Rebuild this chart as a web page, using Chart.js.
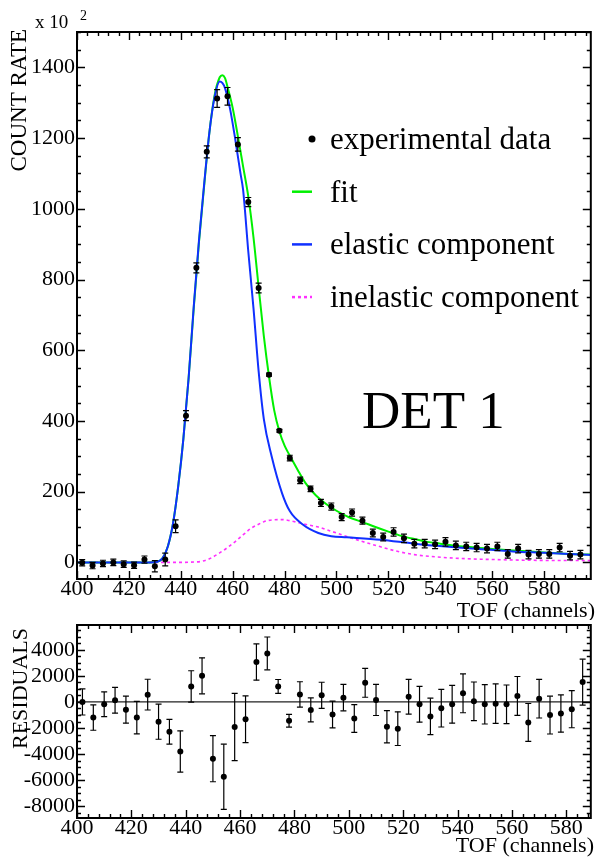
<!DOCTYPE html>
<html>
<head>
<meta charset="utf-8">
<script src="https://cdn.jsdelivr.net/npm/chart.js@4.4.1/dist/chart.umd.min.js"></script>
<style>
  html, body { margin: 0; padding: 0; background: #fff; }
  #wrap { position: relative; width: 596px; height: 861px; overflow: hidden; background: #fff; }
  canvas { position: absolute; left: 0; }
  #c-top { top: 0; }
  #c-res { top: 595px; }
</style>
</head>
<body>
<div id="wrap">
  <canvas id="c-top" width="596" height="620"></canvas>
  <canvas id="c-res" width="596" height="266"></canvas>
</div>
<script>
(() => {
  "use strict";

  // ── data (count rate in units of 10^2, residuals in raw counts) ──────────
  const channels = [402, 406, 410, 414, 418, 422, 426, 430, 434, 438, 442, 446, 450, 454, 458, 462, 466,
    470, 474, 478, 482, 486, 490, 494, 498, 502, 506, 510, 514, 518, 522, 526, 530, 534, 538, 542, 546,
    550, 554, 558, 562, 566, 570, 574, 578, 582, 586, 590, 594];
  const counts = [-1, -9, -3, 0, -5, -8, 8, -11, 8, 102, 415, 833, 1161, 1312, 1318, 1182, 1019,
    776, 531, 372, 295, 232, 208, 168, 158, 128, 141, 118, 83, 72, 86, 68, 53, 53, 51, 58, 48,
    45, 42, 39, 45, 24, 39, 22, 24, 24, 42, 19, 22];
  const countErr = [9, 9, 9, 9, 9, 9, 10, 16, 18, 18, 14, 14, 17, 25, 25, 19, 13,
    14, 4, 4, 8, 9, 8, 10, 10, 10, 10, 10, 11, 11, 12, 12, 12, 12, 12, 12, 12,
    12, 12, 12, 12, 12, 12, 12, 12, 12, 12, 12, 12];

  const fitX = [400, 428, 431, 433, 435, 437, 439, 441, 443, 445, 447, 449, 451, 453, 455, 456, 457, 458,
    460, 462, 464, 466, 468, 470, 472, 474, 476, 478, 480, 482, 485, 488, 492, 496, 500, 505, 510, 515,
    520, 525, 530, 535, 540, 545, 550, 555, 560, 570, 580, 590, 598];
  const fitY = [0, 0, 2, 12, 45, 110, 215, 350, 520, 720, 905, 1065, 1215, 1320, 1372, 1378, 1370, 1345,
    1285, 1205, 1120, 1035, 920, 778, 640, 525, 430, 370, 330, 302, 262, 225, 190, 165, 146, 127, 114, 100,
    87, 75, 66, 58, 53, 48, 44, 41, 38, 33, 28, 24, 22];

  const elasticX = [400, 428, 431, 433, 435, 437, 439, 441, 443, 445, 447, 449, 451, 453, 455, 456, 457,
    459, 461, 463, 464, 466, 468, 470, 472, 475, 479, 482, 487, 493, 498, 504, 517, 530, 542, 555, 568,
    580, 594, 598];
  const elasticY = [0, 0, 2, 12, 45, 110, 215, 350, 520, 725, 910, 1070, 1215, 1315, 1360, 1356, 1342,
    1282, 1196, 1100, 1054, 880, 720, 540, 405, 300, 196, 145, 107, 83, 74, 71, 64, 53, 45, 38, 31,
    27, 22, 21];

  const inelasticX = [400, 440, 445, 448, 451, 455, 458, 461, 464, 467, 470, 472, 475, 479, 482, 485, 489,
    493, 498, 504, 510, 517, 523, 530, 536, 548, 561, 574, 598];
  const inelasticY = [0, 0, 1, 3, 10, 27, 42, 59, 78, 96, 108, 115, 120, 121, 118, 113, 106,
    100, 88, 73, 59, 44, 32, 22, 17, 11, 8, 6, 5];

  const resChannels = channels.slice(0, 47);
  const residuals = [0, -1200, -180, 130, -590, -1200, 560, -1510, -2280, -3800, 1190, 2000, -4350, -5740,
    -1920, -1330, 3060, 3720, 1190, -1440, 580, -610, 510, -960, 330, -1270, 1470, 150, -1900, -2050, 400,
    -180, -1110, -480, -180, 660, 50, -180, -130, -180, 460, -1570, 250, -1010, -890, -560, 1520];
  const resErr = [1000, 970, 950, 990, 1040, 1250, 1180, 1350, 950, 1580, 1200, 1380, 1770, 2500, 2580,
    1790, 1390, 1260, 530, 490, 970, 920, 1000, 1030, 1010, 1060, 1110, 1190, 1240, 1290, 1330, 1370,
    1400, 1440, 1450, 1490, 1480, 1510, 1510, 1480, 1490, 1450, 1480, 1450, 1430, 1420, 1760];

  const xTicks = [400, 420, 440, 460, 480, 500, 520, 540, 560, 580];
  const yTicksTop = [0, 200, 400, 600, 800, 1000, 1200, 1400];
  const yTicksRes = [-8000, -6000, -4000, -2000, 0, 2000, 4000];

  const legendItems = ["experimental data", "fit", "elastic component", "inelastic component"];

  // ── style ───────────────────────────────────────────────────────────────
  const SERIF = "'Liberation Serif', 'Times New Roman', Times, serif";
  const GREEN = "#00f000";
  const BLUE = "#1030ff";
  const MAGENTA = "#ff30ff";

  Chart.defaults.font.family = SERIF;
  Chart.defaults.color = "#000";

  const xy = (xs, ys) => xs.map((x, i) => ({ x, y: ys[i] }));

  function errSegments(xs, ys, es) {
    const out = [];
    xs.forEach((x, i) => {
      out.push({ x, y: ys[i] - es[i] }, { x, y: ys[i] + es[i] }, { x, y: null });
    });
    return out;
  }

  function errCaps(xs, ys, es) {
    return xs.flatMap((x, i) => [{ x, y: ys[i] - es[i] }, { x, y: ys[i] + es[i] }]);
  }

  // ROOT-style frame: box with inward major/minor ticks on all four sides
  const rootFrame = {
    id: "rootFrame",
    afterDatasetsDraw(chart, args, o) {
      const { ctx, chartArea: a, scales: { x, y } } = chart;
      ctx.save();
      ctx.strokeStyle = "#000";
      ctx.lineWidth = 1.4;
      ctx.beginPath();
      for (let v = Math.ceil(x.min / o.xMinor) * o.xMinor; v <= x.max; v += o.xMinor) {
        const px = Math.round(x.getPixelForValue(v)) + 0.5;
        const len = v % o.xMajor === 0 ? o.major : o.minor;
        ctx.moveTo(px, a.bottom); ctx.lineTo(px, a.bottom - len);
        ctx.moveTo(px, a.top); ctx.lineTo(px, a.top + len);
      }
      for (let v = Math.ceil(y.min / o.yMinor) * o.yMinor; v <= y.max; v += o.yMinor) {
        const py = Math.round(y.getPixelForValue(v)) + 0.5;
        const len = v % o.yMajor === 0 ? o.major : o.minor;
        ctx.moveTo(a.left, py); ctx.lineTo(a.left + len, py);
        ctx.moveTo(a.right, py); ctx.lineTo(a.right - len, py);
      }
      ctx.stroke();
      ctx.lineWidth = 2;
      ctx.strokeRect(a.left, a.top, a.right - a.left, a.bottom - a.top);
      ctx.restore();
    },
    afterDraw(chart, args, o) {
      const { ctx } = chart;
      ctx.save();
      ctx.fillStyle = "#000";
      for (const t of o.texts || []) {
        ctx.font = `${t.size}px ${SERIF}`;
        ctx.textAlign = t.align || "left";
        ctx.textBaseline = "alphabetic";
        if (t.rotate) {
          ctx.save();
          ctx.translate(t.x, t.y);
          ctx.rotate(-Math.PI / 2);
          ctx.fillText(t.text, 0, 0);
          ctx.restore();
        } else {
          ctx.fillText(t.text, t.x, t.y);
        }
      }
      if (o.legend) drawLegend(ctx, o.legend);
      ctx.restore();
    },
  };

  function drawLegend(ctx, L) {
    const rowY = (i) => L.y + i * L.step;
    // marker column
    ctx.fillStyle = "#000";
    ctx.beginPath();
    ctx.arc(L.markX, rowY(0) - 10, 3.5, 0, Math.PI * 2);
    ctx.fill();
    const lines = [[GREEN, []], [BLUE, []], [MAGENTA, [3, 3]]];
    lines.forEach(([c, dash], i) => {
      ctx.strokeStyle = c;
      ctx.lineWidth = 2.5;
      ctx.setLineDash(dash);
      ctx.beginPath();
      ctx.moveTo(L.lineX0, rowY(i + 1) - 10);
      ctx.lineTo(L.lineX1, rowY(i + 1) - 10);
      ctx.stroke();
    });
    ctx.setLineDash([]);
    ctx.font = `${L.size}px ${SERIF}`;
    ctx.textAlign = "left";
    ctx.fillStyle = "#000";
    legendItems.forEach((txt, i) => ctx.fillText(txt, L.textX, rowY(i)));
  }

  const tickFont = { size: 22, lineHeight: 1 };

  function xScale(min, max, height) {
    return {
      type: "linear", min, max,
      afterBuildTicks: (s) => { s.ticks = xTicks.map((v) => ({ value: v })); },
      afterFit: (s) => { s.height = height; },
      grid: { display: false, drawTicks: false },
      border: { display: false },
      ticks: { font: tickFont, padding: -1, maxRotation: 0, autoSkip: false, callback: (v) => String(v) },
    };
  }

  function yScale(min, max, ticks) {
    return {
      type: "linear", min, max,
      afterBuildTicks: (s) => { s.ticks = ticks.map((v) => ({ value: v })); },
      afterFit: (s) => { s.width = 77; },
      grid: { display: false, drawTicks: false },
      border: { display: false },
      ticks: { font: tickFont, padding: 2, autoSkip: false, callback: (v) => String(v) },
    };
  }

  const baseOpts = {
    responsive: false,
    animation: false,
    devicePixelRatio: 1,
    events: [],
  };

  // ── top panel ───────────────────────────────────────────────────────────
  new Chart(document.getElementById("c-top").getContext("2d"), {
    type: "scatter",
    data: {
      datasets: [
        { label: "experimental data", data: xy(channels, counts), pointRadius: 3, pointBackgroundColor: "#000",
          pointBorderWidth: 0, order: 0 },
        { type: "line", data: errSegments(channels, counts, countErr), borderColor: "#000", borderWidth: 1.2,
          pointRadius: 0, spanGaps: false, order: 1 },
        { data: errCaps(channels, counts, countErr), pointStyle: "line", pointRadius: 3, pointBorderColor: "#000",
          pointBorderWidth: 1.2, order: 1 },
        { type: "line", label: "fit", data: xy(fitX, fitY), borderColor: GREEN, borderWidth: 2, pointRadius: 0,
          cubicInterpolationMode: "monotone", order: 3 },
        { type: "line", label: "elastic component", data: xy(elasticX, elasticY), borderColor: BLUE, borderWidth: 2,
          pointRadius: 0, cubicInterpolationMode: "monotone", order: 2 },
        { type: "line", label: "inelastic component", data: xy(inelasticX, inelasticY), borderColor: MAGENTA,
          borderWidth: 1.6, borderDash: [3, 3], pointRadius: 0, cubicInterpolationMode: "monotone", order: 4 },
      ],
    },
    options: {
      ...baseOpts,
      layout: { padding: { top: 32, right: 1, left: 0, bottom: 0 } },
      plugins: {
        legend: { display: false },
        tooltip: { enabled: false },
        rootFrame: {
          xMinor: 4, xMajor: 20, yMinor: 50, yMajor: 200, major: 8, minor: 4,
          texts: [
            { text: "x 10", x: 35, y: 28, size: 19 },
            { text: "2", x: 80, y: 20, size: 14 },
            { text: "COUNT RATE", x: 26, y: 29, size: 23, align: "right", rotate: true },
            { text: "TOF (channels)", x: 595, y: 617, size: 22, align: "right" },
            { text: "DET 1", x: 362, y: 428, size: 53 },
          ],
          legend: { markX: 312, lineX0: 292, lineX1: 312, textX: 330, y: 149, step: 52.7, size: 31 },
        },
      },
      scales: {
        x: xScale(400, 598, 41),
        y: yScale(-47, 1500, yTicksTop),
      },
    },
    plugins: [rootFrame],
  });

  // ── residuals panel ─────────────────────────────────────────────────────
  const resXMin = 400;
  const resXMax = 589;
  new Chart(document.getElementById("c-res").getContext("2d"), {
    type: "scatter",
    data: {
      datasets: [
        { label: "residuals", data: xy(resChannels, residuals), pointRadius: 3, pointBackgroundColor: "#000",
          pointBorderWidth: 0, order: 0 },
        { type: "line", data: errSegments(resChannels, residuals, resErr), borderColor: "#000", borderWidth: 1.2,
          pointRadius: 0, spanGaps: false, order: 1 },
        { data: errCaps(resChannels, residuals, resErr), pointStyle: "line", pointRadius: 3,
          pointBorderColor: "#000", pointBorderWidth: 1.2, order: 1 },
        { type: "line", data: xy([resXMin, resXMax], [0, 0]), borderColor: "#222", borderWidth: 1.2,
          pointRadius: 0, order: 2 },
      ],
    },
    options: {
      ...baseOpts,
      layout: { padding: { top: 30, right: 1.5, left: 0, bottom: 0 } },
      plugins: {
        legend: { display: false },
        tooltip: { enabled: false },
        rootFrame: {
          xMinor: 4, xMajor: 20, yMinor: 500, yMajor: 2000, major: 8, minor: 4,
          texts: [
            { text: "RESIDUALS", x: 27, y: 33, size: 22, align: "right", rotate: true },
            { text: "TOF (channels)", x: 594, y: 257, size: 22, align: "right" },
          ],
        },
      },
      scales: {
        x: xScale(resXMin, resXMax, 43),
        y: yScale(-8900, 5900, yTicksRes),
      },
    },
    plugins: [rootFrame],
  });
})();
</script>
</body>
</html>
